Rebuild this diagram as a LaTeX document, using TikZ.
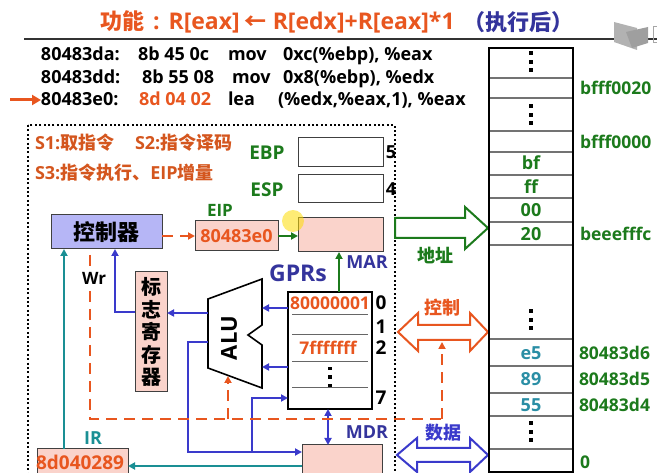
\documentclass[tikz,border=0pt]{standalone}
\usepackage{fontspec}
\setmainfont{Open Sans}
\newfontfamily\cjk{Noto Sans CJK SC}
\usetikzlibrary{arrows.meta}
\definecolor{ored}{HTML}{E8561F}
\definecolor{sorange}{HTML}{D4561E}
\definecolor{dgreen}{HTML}{1C7A1C}
\definecolor{tblue}{HTML}{34349C}
\definecolor{ablue}{HTML}{3A3ACB}
\definecolor{teal2}{HTML}{1A8F94}
\definecolor{pink2}{HTML}{FAD3CB}
\definecolor{lav}{HTML}{B6B6F6}
\definecolor{mteal}{HTML}{2A8EA5}
\newcommand\fs[1]{\fontsize{#1}{#1}\selectfont}
\newcommand\mydots[3]{\foreach \dd in {-8.5,0,8.5} \fill (#1-#3/2,#2+\dd-#3/2) rectangle ++(#3,#3);}
\begin{document}
\begin{tikzpicture}[x=1pt,y=-1pt,
  txt/.style={font=\bfseries, inner sep=0pt, outer sep=0pt},
  code/.style={txt, font=\bfseries\fs{18}, anchor=base west},
  box/.style={draw=black!75, line width=1pt, inner sep=0pt, outer sep=0pt},
  pbox/.style={box, fill=pink2},
  barrow/.style={ablue, line width=2.4pt, -{Triangle[length=7pt,width=7pt]}},
  bdouble/.style={ablue, line width=2.4pt, {Triangle[length=7pt,width=7pt]}-{Triangle[length=7pt,width=7pt]}},
  garrow/.style={dgreen, line width=2.4pt, -{Triangle[length=7pt,width=7pt]}},
  tarrow/.style={teal2, line width=2.4pt, -{Triangle[length=7pt,width=7pt]}},
  odash/.style={ored, line width=2.4pt, dash pattern=on 11pt off 7pt},
  memtxt/.style={txt, font=\bfseries\fs{18}},
  addr/.style={txt, font=\bfseries\fs{17.5}, text=dgreen, anchor=west},
  gnum/.style={txt, font=\bfseries\fs{19}},
]
\useasboundingbox (0,0) rectangle (657,473);
\clip (0,0) rectangle (657,473);

% title
\node[txt, font=\bfseries\fs{23}, text=ored, anchor=west] (title) at (95,22) {{\cjk\fs{22} 功能}\hspace{9pt}:\hspace{9pt}R[eax]{\cjk\fs{22} ←} R[edx]+R[eax]*1};
\node[txt, font=\bfseries\fs{22}, text=tblue, anchor=west] (title2) at (463,22) {\cjk （执行后）};
\draw[black!80, line width=1.2pt] (24,39) -- (657,39);

% player icon artifact
\fill[gray!60] (614,22) -- (637,28) -- (637,50) -- (614,42) -- cycle;
\fill[gray!75] (626,32) -- (648,27) -- (648,43) -- (632,48) -- cycle;
\draw[gray!70, line width=1pt] (653,27) rectangle (660,43);

% code lines
\node[code] (c1a) at (41,61) {80483da:};
\node[code] (c1b) at (138,61) {8b 45 0c};
\node[code] (c1c) at (228,61) {mov};
\node[code] (c1d) at (283,61) {0xc(\%ebp), \%eax};
\node[code] (c2a) at (41,84) {80483dd:};
\node[code] (c2b) at (142,84) {8b 55 08};
\node[code] (c2c) at (232,84) {mov};
\node[code] (c2d) at (283,84) {0x8(\%ebp), \%edx};
\node[code] (c3a) at (41,106) {80483e0:};
\node[code, text=ored] (c3b) at (139,106) {8d 04 02};
\node[code] (c3c) at (228,106) {lea};
\node[code] (c3d) at (278,106) {(\%edx,\%eax,1), \%eax};
\coordinate (pc) at (10,100);
\draw[ored, line width=3pt, -{Triangle[length=9pt,width=10pt]}] (pc) -- (c3a.west |- pc);

% dotted CPU box
\draw[black, line width=2pt, dash pattern=on 2pt off 2.4pt] (28,125) rectangle (395,495);

% steps
\node[txt, font=\bfseries\fs{18}, text=sorange, anchor=west] (s1) at (35,143) {S1:{\cjk 取指令}};
\node[txt, font=\bfseries\fs{18}, text=sorange, anchor=west] (s2) at (135,143) {S2:{\cjk 指令译码}};
\node[txt, font=\bfseries\fs{18}, text=sorange, anchor=west] (s3) at (35,173) {S3:{\cjk 指令执行、}EIP{\cjk 增量}};

% registers EBP ESP
\node[box, fill=white, minimum width=85pt, minimum height=29pt] (ebp) at (340.5,152.5) {};
\node[box, fill=white, minimum width=85pt, minimum height=28pt] (esp) at (340.5,189) {};
\node[txt, font=\bfseries\fs{19}, text=dgreen] (ebpl) at (267,153) {EBP};
\node[txt, font=\bfseries\fs{19}, text=dgreen] (espl) at (267,190) {ESP};
\node[txt, font=\bfseries\fs{18}] (n5) at (391,152) {5};
\node[txt, font=\bfseries\fs{18}] (n4) at (391,189) {4};

% controller, EIP, MAR
\node[box, fill=lav, minimum width=111pt, minimum height=34pt, font=\bfseries\fs{22}] (ctrl) at (106.5,232) {\cjk 控制器};
\node[pbox, minimum width=83pt, minimum height=30pt, font=\bfseries\fs{18}, text=ored] (eip) at (236.5,236) {80483e0};
\node[txt, font=\bfseries\fs{17}, text=dgreen] (eipl) at (220,210) {EIP};
\node[pbox, minimum width=85pt, minimum height=34pt] (mar) at (340.5,235) {};
\node[txt, font=\bfseries\fs{18}, text=tblue] (marl) at (367,262) {MAR};
\draw[odash, -{Triangle[length=7pt,width=7pt]}] (ctrl.east |- eip.west) -- (eip.west);
\draw[garrow] (eip.east) -- (mar.west |- eip.east);
\fill[yellow!80!orange, opacity=0.55] (293,221) circle (11);

% flag register
\node[pbox, minimum width=32pt, minimum height=120pt, align=center, font=\cjk\bfseries\fontsize{20}{22.5}\selectfont] (flag) at (151,332) {标\\志\\寄\\存\\器};

% GPRs
\node[txt, font=\bfseries\fs{23}, text=tblue] (gprsl) at (298,273) {GPRs};
\node[box, draw=black, line width=1.6pt, minimum width=84pt, minimum height=117pt] (gprs) at (330,350.5) {};
\foreach \yy in {315,335,362,388} \draw[black!60, line width=1pt] (292,\yy) -- (368,\yy);
\node[txt, font=\bfseries\fs{17.5}, text=ored] (r0) at (330,303) {80000001};
\node[txt, font=\bfseries\fs{17.5}, text=ored] (r2) at (328,348) {7fffffff};
\mydots{330}{377}{3.2}
\node[gnum] (g0) at (381,303) {0};
\node[gnum] (g1) at (381,327) {1};
\node[gnum] (g2) at (381,348) {2};
\node[gnum] (g7) at (381,398) {7};
\draw[garrow] (gprs.north -| 339,0) -- (mar.south -| 339,0);

% ALU
\draw[black, line width=1.6pt, fill=white] (208,299) -- (262,279) -- (262,325) -- (248,335) -- (262,345) -- (262,388) -- (208,368) -- cycle;
\node[txt, font=\bfseries\fs{22}, rotate=90] (alu) at (229,338) {ALU};
\coordinate (aluR1) at (262,308);
\coordinate (aluR2) at (262,367);
\coordinate (aluL1) at (208,313);
\coordinate (aluL2) at (208,342);
\coordinate (aluB) at (228,376);
\draw[barrow] (gprs.west |- aluR1) -- (aluR1);
\draw[barrow] (gprs.west |- aluR2) -- (aluR2);
\draw[barrow] (aluL1) -- (flag.east |- aluL1);
\draw[barrow] (flag.west |- 0,312) -- (115,312) -- (ctrl.south -| 115,0);

% IR, MDR
\node[pbox, minimum width=91pt, minimum height=41pt] (ir) at (82.5,469.5) {};
\node[txt, font=\bfseries\fs{19}, text=ored] (irtxt) at (80,462) {8d040289};
\node[txt, font=\bfseries\fs{18}, text=teal2] (irl) at (93,438) {IR};
\node[pbox, minimum width=80pt, minimum height=45pt] (mdr) at (342,467.5) {};
\node[txt, font=\bfseries\fs{18}, text=tblue] (mdrl) at (367,432) {MDR};
\draw[tarrow] (ir.north -| 64,0) -- (ctrl.south -| 64,0);
\draw[tarrow] (mdr.west |- 0,466) -- (ir.east |- 0,466);
\draw[bdouble] (gprs.south -| 328,0) -- (mdr.north -| 328,0);
\draw[barrow] (aluL2) -- (188,342) -- (188,452) -- (mdr.west |- 0,452);
\draw[barrow] (252,452) -- (252,398) -- (gprs.west |- 0,398);

% control dashed lines
\draw[odash] (90,255) -- (90,419) -- (442,419);
\draw[odash, -{Triangle[length=7pt,width=7pt]}] (442,419) -- (442,342);
\draw[odash, -{Triangle[length=7pt,width=7pt]}] (228,419) -- (aluB);
\node[txt, font=\bfseries\fs{17}, fill=white, inner sep=1pt] (wr) at (94,278) {Wr};

% buses
\draw[dgreen, line width=2pt, fill=white] (395,218) -- (465,218) -- (465,207) -- (488,228) -- (465,249) -- (465,238) -- (395,238) -- cycle;
\node[txt, font=\bfseries\fs{18}, text=dgreen] (addrl) at (435,255) {\cjk 地址};
\draw[ored, line width=2pt, fill=white] (398,332) -- (418,313) -- (418,325) -- (470,325) -- (470,313) -- (488,332) -- (470,351) -- (470,340) -- (418,340) -- (418,351) -- cycle;
\node[txt, font=\bfseries\fs{18}, text=ored] (ctrll) at (442,308) {\cjk 控制};
\draw[ablue, line width=2pt, fill=white] (397,455) -- (417,438) -- (417,448) -- (470,448) -- (470,438) -- (488,455) -- (470,472) -- (470,462) -- (417,462) -- (417,472) -- cycle;
\node[txt, font=\bfseries\fs{18}, text=ablue] (datal) at (443,433) {\cjk 数据};

% memory
\node[box, draw=black, line width=1.8pt, minimum width=84pt, minimum height=424pt] (mem) at (531,260) {};
\foreach \yy in {78,98,131,152,175,198,222,245,339,366,393,416,449} \draw[black!55, line width=1.2pt] (490,\yy) -- (572,\yy);
\mydots{531}{62}{4}
\mydots{531}{115}{4}
\mydots{531}{320}{4}
\mydots{531}{432}{4}
\node[memtxt, text=dgreen] (mbf) at (531,163) {bf};
\node[memtxt, text=dgreen] (mff) at (531,187) {ff};
\node[memtxt, text=dgreen] (m00) at (531,210) {00};
\node[memtxt, text=dgreen] (m20) at (531,234) {20};
\node[memtxt, text=mteal] (me5) at (531,353) {e5};
\node[memtxt, text=mteal] (m89) at (531,379) {89};
\node[memtxt, text=mteal] (m55) at (531,405) {55};
\node[addr] (a1) at (580,88) {bfff0020};
\node[addr] (a2) at (580,142) {bfff0000};
\node[addr] (a3) at (580,234) {beeefffc};
\node[addr] (a4) at (579,353) {80483d6};
\node[addr] (a5) at (579,379) {80483d5};
\node[addr] (a6) at (579,405) {80483d4};
\node[addr] (a7) at (580,462) {0};
\end{tikzpicture}
\end{document}
